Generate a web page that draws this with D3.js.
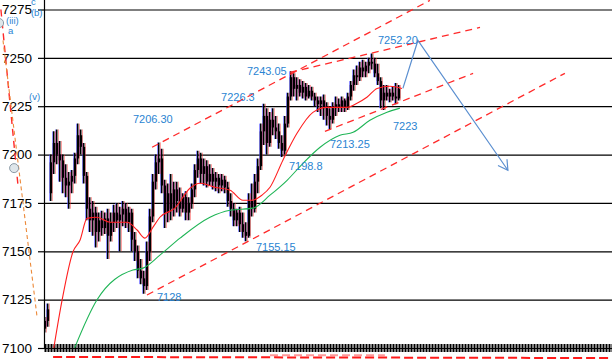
<!DOCTYPE html>
<html><head><meta charset="utf-8">
<script src="https://cdn.jsdelivr.net/npm/d3@7"></script>
<style>
html,body{margin:0;padding:0;background:#fff;}
svg{display:block;font-family:"Liberation Sans",Arial,sans-serif;}
</style></head>
<body>
<svg id="c" width="612" height="359"></svg>
<script>
// ---------- DATA ----------
const priceTicks = [7100,7125,7150,7175,7200,7225,7250,7275];
const opens  = [7110,7114,7180,7196,7206,7200,7197,7188,7184,7186,7189,7198,7210,7204,7189,7172,7166,7170,7160,7166,7162,7167,7158,7165,7170,7166,7169,7172,7165,7170,7156,7150,7140,7136,7132,7150,7168,7186,7196,7198,7184,7170,7180,7172,7182,7176,7172,7178,7170,7175,7182,7192,7198,7190,7194,7186,7190,7186,7188,7184,7187,7183,7176,7172,7166,7170,7164,7160,7158,7176,7172,7186,7194,7212,7220,7206,7218,7214,7212,7206,7202,7216,7230,7240,7234,7236,7232,7235,7230,7233,7230,7228,7226,7228,7224,7220,7218,7224,7226,7225,7228,7224,7230,7236,7241,7240,7245,7243,7246,7248,7247,7242,7238,7228,7232,7230,7232,7230,7229];
const highs  = [7116,7123,7200,7212,7213,7207,7200,7195,7191,7192,7201,7216,7213,7206,7191,7178,7176,7173,7170,7171,7170,7172,7170,7174,7175,7173,7176,7175,7173,7172,7160,7153,7146,7140,7155,7172,7190,7200,7206.3,7203,7187,7185,7190,7186,7186,7183,7180,7181,7178,7185,7195,7202,7201,7198,7197,7195,7193,7191,7190,7190,7189,7186,7180,7175,7172,7173,7170,7165,7180,7185,7190,7198,7216,7226.3,7224,7222,7224,7220,7216,7210,7220,7232,7243.05,7242,7240,7239,7238,7237,7236,7235,7232,7230,7230,7231,7227,7224,7227,7230,7229,7230,7229,7232,7238,7244,7246,7248,7249,7248,7250,7252.2,7250,7247,7240,7236,7236,7234,7235,7237,7236];
const lows   = [7108,7111,7176,7190,7195,7186,7180,7178,7172,7180,7185,7195,7200,7185,7166,7160,7158,7152,7155,7158,7159,7146,7155,7160,7162,7150,7163,7162,7160,7150,7145,7136,7133,7128,7130,7145,7165,7182,7190,7180,7162,7165,7166,7168,7170,7168,7170,7166,7166,7172,7178,7188,7185,7184,7183,7184,7182,7181,7180,7181,7180,7173,7168,7163,7163,7160,7157,7155.15,7157,7168,7170,7180,7192,7205,7200,7204,7210,7208,7203,7198.8,7200,7214,7228,7230,7228,7230,7229,7228,7229,7228,7225,7222,7220,7218,7215,7213.25,7216,7220,7222,7222,7222,7223,7228,7233,7236,7238,7240,7240,7242,7244,7240,7236,7224,7223,7228,7227,7228,7226,7228];
const closes = [7114,7120,7196,7206,7200,7197,7188,7184,7186,7189,7198,7210,7204,7189,7172,7166,7170,7160,7166,7162,7167,7158,7165,7170,7166,7169,7172,7165,7170,7156,7150,7140,7136,7132,7150,7168,7186,7196,7198,7184,7170,7180,7172,7182,7176,7172,7178,7170,7175,7182,7192,7198,7190,7194,7186,7190,7186,7188,7184,7187,7183,7176,7172,7166,7170,7164,7160,7158,7176,7172,7186,7194,7212,7220,7206,7218,7214,7212,7206,7202,7216,7230,7240,7234,7236,7232,7235,7230,7233,7230,7228,7226,7228,7224,7220,7218,7224,7226,7225,7228,7224,7230,7236,7241,7240,7245,7243,7246,7248,7247,7242,7238,7228,7232,7230,7232,7230,7229,7234];
const slotCount = 190;

const maRedIdx = [2.3,5.7,9.3,11.7,14,17.3,21.7,27.3,30.7,33.3,36,38.3,43.3,48.3,51.7,56.7,61.7,66,69,72.3,75,79.3,84,89.3,94,100.7,104,107.3,110.7,115,119];
const maRedVal = [7094,7124.8,7149.6,7155.8,7167,7167.6,7165,7165,7161,7156.8,7162.5,7167.6,7172.3,7182.6,7185.2,7183.1,7181.6,7176.4,7176.4,7179,7183.1,7197.1,7211,7221.8,7224.4,7224.4,7226.5,7229.6,7234.2,7235.3,7234.2];
const maGreenIdx = [8.3,17.3,29.3,32.7,38.3,45,55,61.7,69.3,75,80.7,86,91.7,98.3,102.7,108.3,114,118.3];
const maGreenVal = [7094,7124.8,7140.3,7141.3,7148,7156.8,7167.6,7171.2,7172.3,7179,7186.7,7195.5,7203.8,7210,7211.5,7217.7,7221.9,7224];

// trend lines: [i1, p1, i2, p2]
const channelLines = [
  [35.7,7203.8,128.3,7279.7],
  [81.7,7242.5,145,7265.7],
  [93.3,7212,142.7,7242],
  [34,7127.4,173.3,7242]
];
const leftRedLine = [-14.7,7275,-9,7184];
const leftOrangeLine = [-14,7259,-2.7,7116.7];
const bottomLine = [2.7,7095.4,189,7094.8];
const bottomPinkLine = [75,7096.2,113.3,7096.2];
const arrowIdx = [119.3,124.3,154.3];
const arrowVal = [7234.2,7259,7191.9];

const priceLabels = ["7206.30","7226.3","7243.05","7252.20","7198.8","7213.25","7223","7155.15","7128"];
const priceLabelIdx = [29.3,58.7,67.3,111,81.3,95,116,70.3,37.3];
const priceLabelVal = [7216.1,7227.5,7240.9,7257,7191.9,7203.6,7212.9,7150,7124.2];

const waveLabels = ["c","(b)","(iii)","a","(v)"];
const waveIdx = [-4.7,-4.7,-13,-12.3,-5.3];
const waveVal = [7277.4,7271.6,7267.4,7262.4,7228.2];
const circleIdx = [-10.3,-15.3];
const circleVal = [7193,7268];

// ---------- CHART ----------
const W=612,H=359, left=44, axisY=348;
const svg=d3.select('#c');
const x=d3.scaleLinear().domain([0,slotCount-1]).range([45,45+3*(slotCount-1)]);
const y=d3.scaleLinear().domain([7100,7275]).range([348,9.5]);

svg.append('clipPath').attr('id','plot').append('rect')
  .attr('x',left).attr('y',0).attr('width',W-left).attr('height',axisY-0);

// grid
const grid=svg.append('g').attr('transform',`translate(${left},0)`)
  .call(d3.axisLeft(y).tickValues(priceTicks).tickSize(-(W-left)).tickFormat(''));
grid.select('.domain').remove();
grid.selectAll('line').attr('stroke','#000').attr('stroke-width',1.2);

// y axis
const ya=svg.append('g').attr('transform',`translate(${left},0)`)
  .call(d3.axisLeft(y).tickValues(priceTicks).tickSize(6).tickPadding(6).tickFormat(d3.format('d')));
ya.select('.domain').attr('d',`M0.5,0V${axisY}`).attr('stroke','#000').attr('stroke-width',1.2);
ya.selectAll('line').attr('stroke','#000').attr('stroke-width',1.2);
ya.selectAll('text').attr('font-size',13.5).attr('fill','#000').attr('font-family','"Liberation Sans",Arial,sans-serif');

// x axis comb
const xa=svg.append('g').attr('transform',`translate(0,${axisY})`)
  .call(d3.axisBottom(x).tickValues(d3.range(slotCount)).tickSize(4).tickFormat(''));
xa.select('.domain').attr('d',`M${left},0.5H${W}`).attr('stroke','#000').attr('stroke-width',1.2);
xa.selectAll('.tick line').attr('y1',-4).attr('y2',4).attr('stroke','#000').attr('stroke-width',2);

const pl=svg.append('g').attr('clip-path','url(#plot)');
const idx=d3.range(closes.length);

// candle fringes
pl.selectAll('.fb').data(idx).join('line')
  .attr('x1',i=>x(i)-1.5).attr('x2',i=>x(i)-1.5)
  .attr('y1',i=>y(highs[i])).attr('y2',i=>y(lows[i]))
  .attr('stroke','#4646ff').attr('stroke-opacity',0.6).attr('stroke-width',1);
pl.selectAll('.fr').data(idx).join('line')
  .attr('x1',i=>x(i)+1.5).attr('x2',i=>x(i)+1.5)
  .attr('y1',i=>y(highs[i])).attr('y2',i=>y(lows[i]))
  .attr('stroke','#ff3030').attr('stroke-opacity',0.45).attr('stroke-width',1);
// wicks
pl.selectAll('.wk').data(idx).join('line')
  .attr('x1',i=>x(i)-0.25).attr('x2',i=>x(i)-0.25)
  .attr('y1',i=>y(highs[i])).attr('y2',i=>y(lows[i]))
  .attr('stroke','#000').attr('stroke-width',1.5);
// bodies
pl.selectAll('.bd').data(idx).join('rect')
  .attr('x',i=>x(i)-1.2).attr('width',2.4)
  .attr('y',i=>y(Math.max(opens[i],closes[i])))
  .attr('height',i=>Math.max(1,Math.abs(y(opens[i])-y(closes[i]))))
  .attr('fill','#000');

// moving averages
const ln=d3.line().curve(d3.curveMonotoneX);
pl.append('path').attr('d',ln(maGreenIdx.map((d,k)=>[x(d),y(maGreenVal[k])])))
  .attr('fill','none').attr('stroke','#1fb556').attr('stroke-width',1.1);
pl.append('path').attr('d',ln(maRedIdx.map((d,k)=>[x(d),y(maRedVal[k])])))
  .attr('fill','none').attr('stroke','#ff1f1f').attr('stroke-width',1.1);

// channel lines
const dash=svg.append('g');
function seg(L,col,w,da,op){
  dash.append('line').attr('x1',x(L[0])).attr('y1',y(L[1])).attr('x2',x(L[2])).attr('y2',y(L[3]))
   .attr('stroke',col).attr('stroke-width',w).attr('stroke-dasharray',da).attr('stroke-opacity',op||1);
}
channelLines.forEach(L=>seg(L,'#ff2a2a',1.3,'7,5'));
seg(leftRedLine,'#ff2a2a',1.4,'7,5');
seg(leftOrangeLine,'#ec8a3a',1.1,'4,3');
seg(bottomPinkLine,'#ff9a9a',2,'8,4');
seg(bottomLine,'#ff1a1a',2,'9,4');

// arrow
const ap=arrowIdx.map((d,k)=>[x(d),y(arrowVal[k])]);
svg.append('path').attr('d',d3.line()(ap)).attr('fill','none').attr('stroke','#5b8fd0').attr('stroke-width',1.2);
{
  const [a,b]=[ap[1],ap[2]];
  const ang=Math.atan2(a[1]-b[1],a[0]-b[0]);
  const L=11, s=Math.PI/6;
  const p1=[b[0]+L*Math.cos(ang+s),b[1]+L*Math.sin(ang+s)];
  const p2=[b[0]+L*Math.cos(ang-s),b[1]+L*Math.sin(ang-s)];
  svg.append('path').attr('d',d3.line()([p1,b,p2])).attr('fill','none').attr('stroke','#5b8fd0').attr('stroke-width',1.2);
}

// circles
svg.selectAll('.cir').data(circleIdx).join('circle')
  .attr('cx',(d)=>x(d)).attr('cy',(d,k)=>y(circleVal[k])).attr('r',4.5)
  .attr('fill','#dfe6ea').attr('stroke','#8a9aa6').attr('stroke-width',1);

// labels
svg.selectAll('.pl').data(priceLabels).join('text')
  .attr('x',(d,k)=>x(priceLabelIdx[k])).attr('y',(d,k)=>y(priceLabelVal[k]))
  .attr('font-size',11).attr('fill','#2a84d2').text(d=>d);
svg.selectAll('.wl').data(waveLabels).join('text')
  .attr('x',(d,k)=>x(waveIdx[k])).attr('y',(d,k)=>y(waveVal[k]))
  .attr('font-size',9.5).attr('fill','#2a84d2').text(d=>d);
</script>
</body></html>
